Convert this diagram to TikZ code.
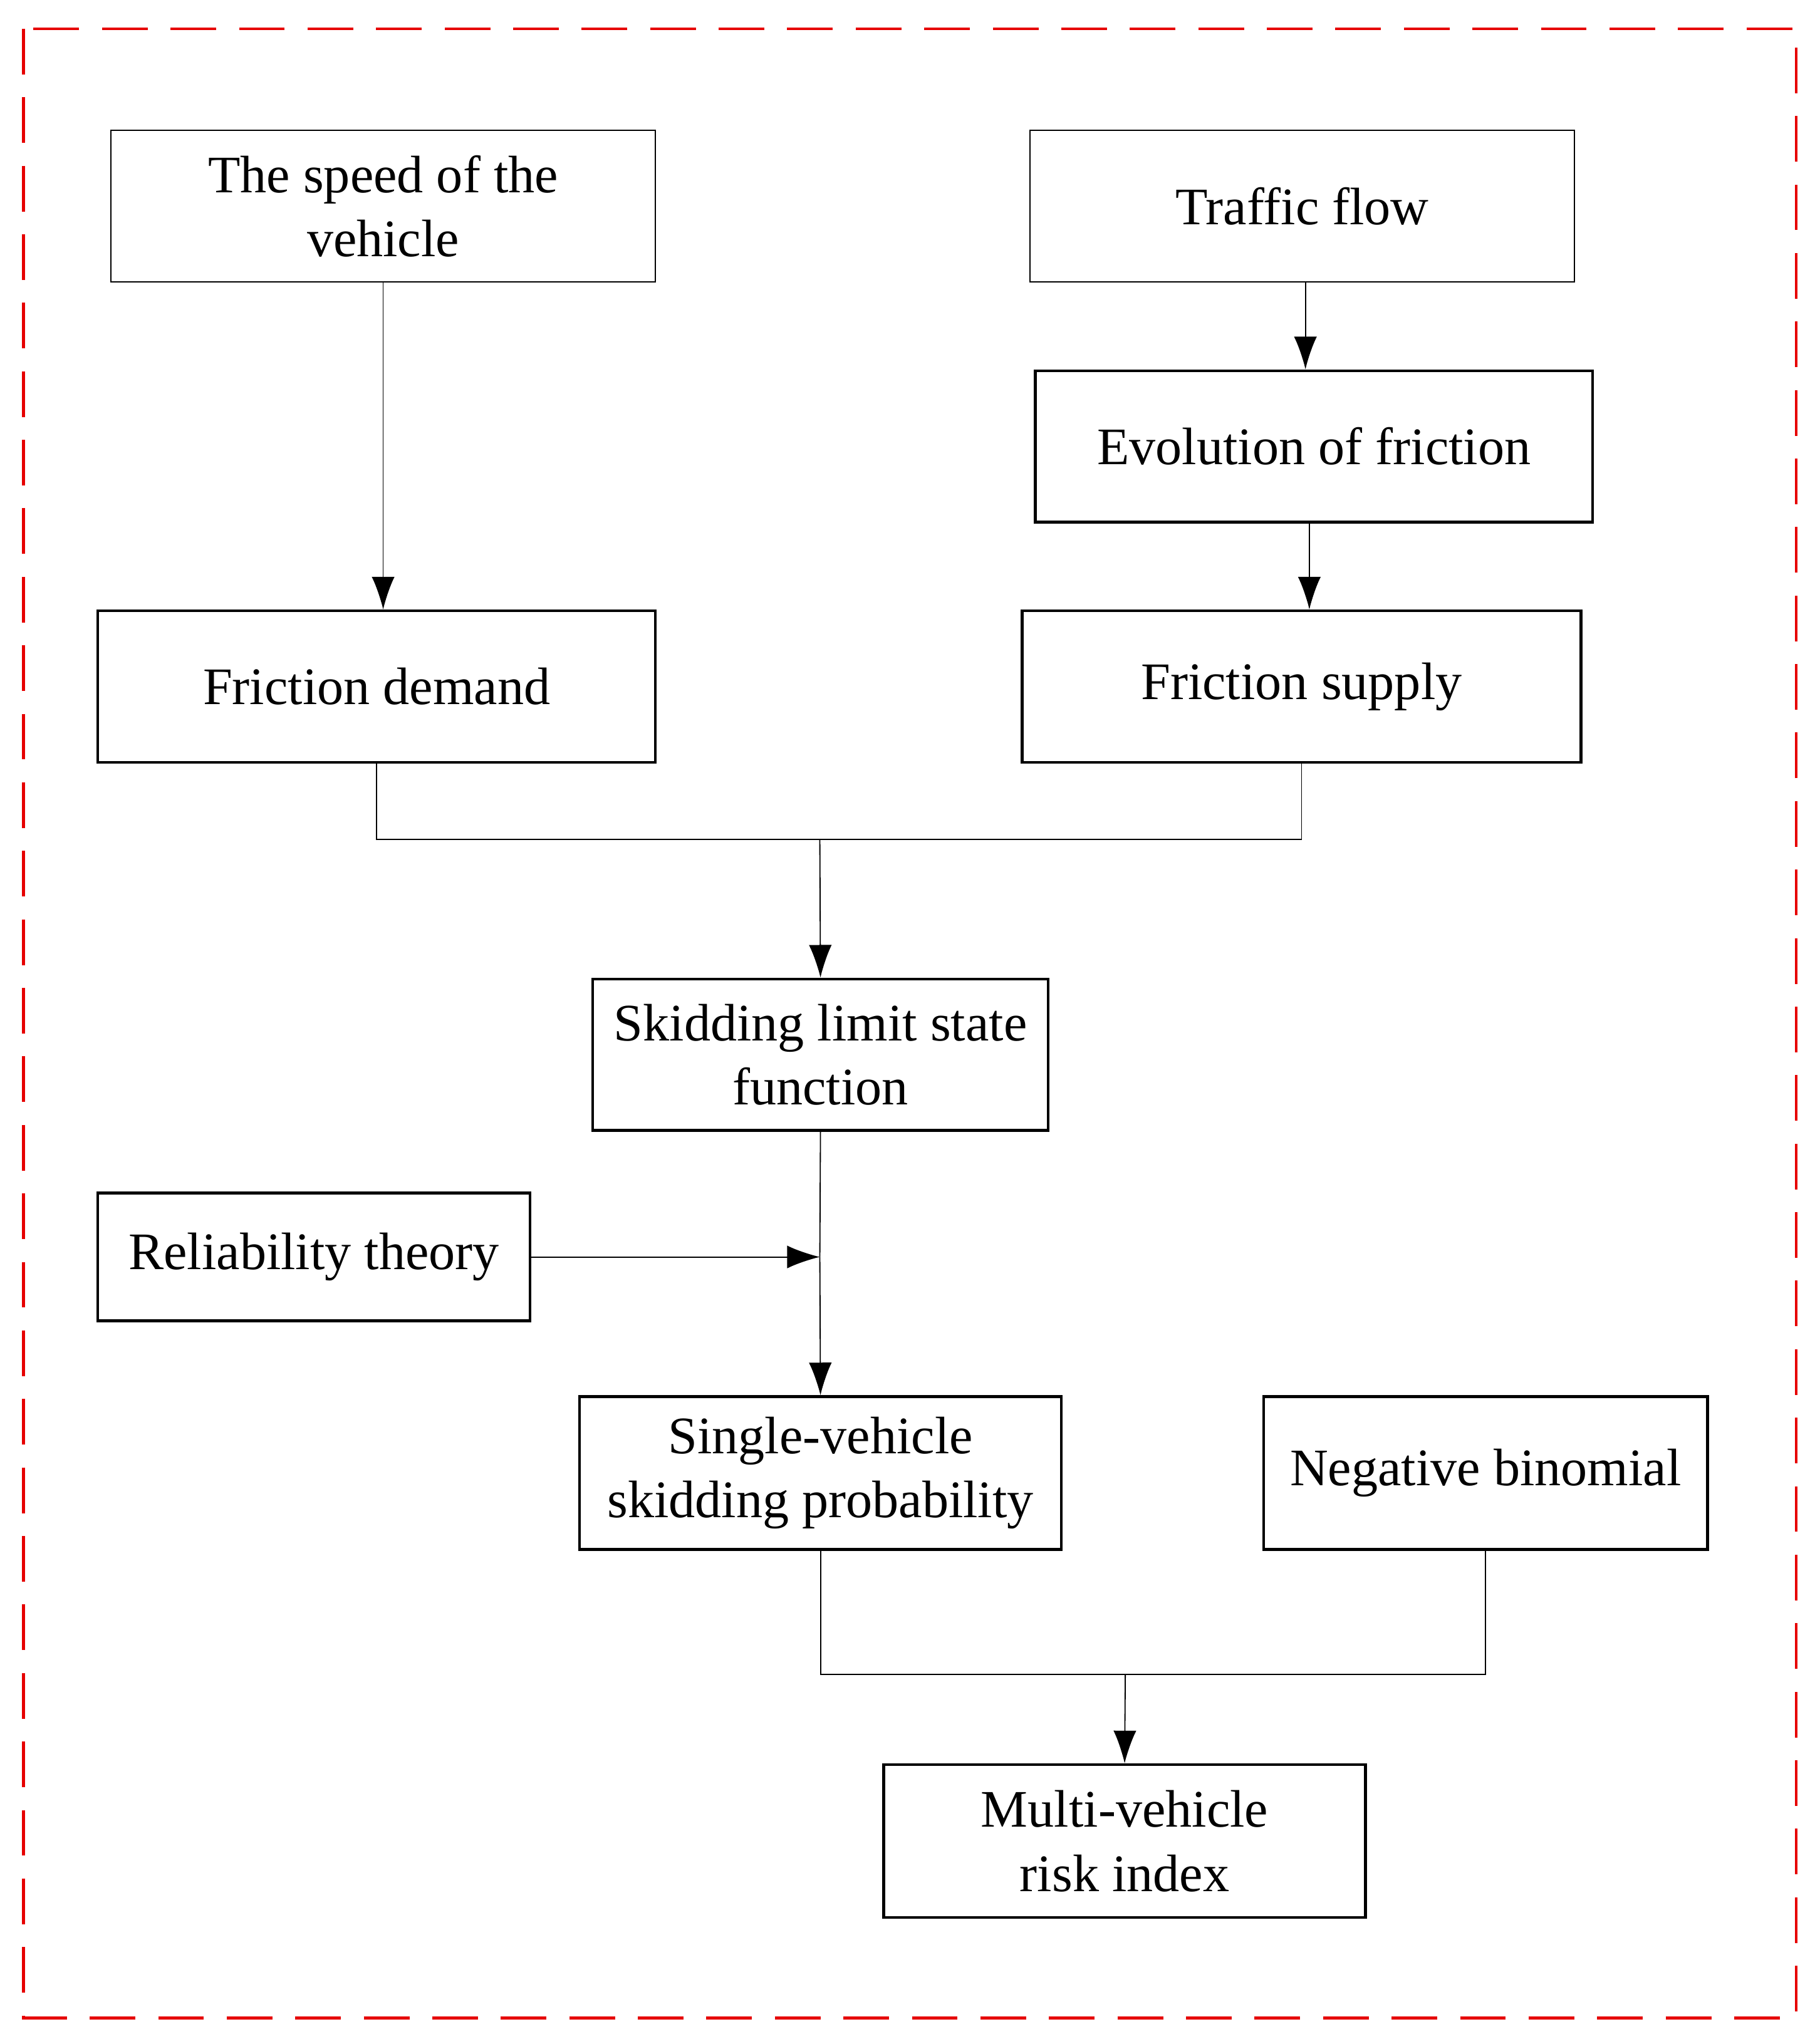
\documentclass[tikz,border=0pt]{standalone}
\usepackage{fontspec}
\setmainfont{Liberation Serif}
\usetikzlibrary{positioning,arrows.meta}
\definecolor{framered}{RGB}{230,0,0}

\begin{document}
\begin{tikzpicture}[x=0.02cm, y=-0.02cm, every node/.style={font=\fontsize{23}{28}\selectfont}]
    \tikzset{
        thinbox/.style={draw,line width=0.5pt,align=center,inner sep=0pt},
        thickbox/.style={draw,line width=1.2pt,align=center,inner sep=0pt},
        arr/.style={-{Latex[length=0.5cm,width=0.35cm]},line width=0.5pt},
        link/.style={line width=0.5pt}
    }
    \useasboundingbox (0,0) rectangle (1390,1566);

    % === Frame ===
    \draw[framered,line width=1.2pt,dash pattern=on 0.7cm off 0.35cm] (18,22) rectangle (1376,1546);

    % === Upper boxes ===
    \node[thinbox,minimum width=417*0.02cm,minimum height=116*0.02cm] (speed) at (293.5,158) {The speed of the\\vehicle};
    \node[thinbox,minimum width=417*0.02cm,minimum height=116*0.02cm] (traffic) at (997.5,158) {Traffic flow};
    \node[thickbox,minimum width=427*0.02cm,minimum height=116*0.02cm] (evol) at (1006.5,342) {Evolution of friction};
    \node[thickbox,minimum width=427*0.02cm,minimum height=116*0.02cm] (demand) at (288.5,526) {Friction demand};
    \node[thickbox,minimum width=428*0.02cm,minimum height=116*0.02cm] (supply) at (997,526) {Friction supply};

    \draw[arr] (speed.south -| 293.5,0) -- (demand.north -| 293.5,0);
    \draw[arr] (traffic.south -| 1000,0) -- (evol.north -| 1000,0);
    \draw[arr] (evol.south -| 1003,0) -- (supply.north -| 1003,0);

    % === Middle ===
    \node[thickbox,minimum width=349*0.02cm,minimum height=116*0.02cm] (skid) at (628.5,808) {Skidding limit state\\function};
    \node[thickbox,minimum width=331*0.02cm,minimum height=98*0.02cm] (reliab) at (240.5,963) {Reliability theory};
    \coordinate (mergeA) at (628,643);
    \coordinate (joinR) at (628,963);

    \draw[link] (demand.south) -- (demand.south |- mergeA) -- (supply.south |- mergeA) -- (supply.south);
    \draw[arr] (mergeA) -- (skid.north);
    \draw[link] (skid.south) -- (joinR);
    \draw[arr] (reliab.east) -- (joinR);

    % === Lower ===
    \node[thickbox,minimum width=369*0.02cm,minimum height=117*0.02cm] (single) at (628.5,1128.5) {Single-vehicle\\skidding probability};
    \node[thickbox,minimum width=340*0.02cm,minimum height=117*0.02cm] (negbin) at (1138,1128.5) {Negative binomial};
    \node[thickbox,minimum width=369*0.02cm,minimum height=117*0.02cm] (multi) at (861.5,1410.5) {Multi-vehicle\\risk index};
    \coordinate (mergeB) at (862,1283);

    \draw[arr] (joinR) -- (single.north);
    \draw[link] (single.south) -- (single.south |- mergeB) -- (negbin.south |- mergeB) -- (negbin.south);
    \draw[arr] (mergeB) -- (multi.north);
\end{tikzpicture}
\end{document}
